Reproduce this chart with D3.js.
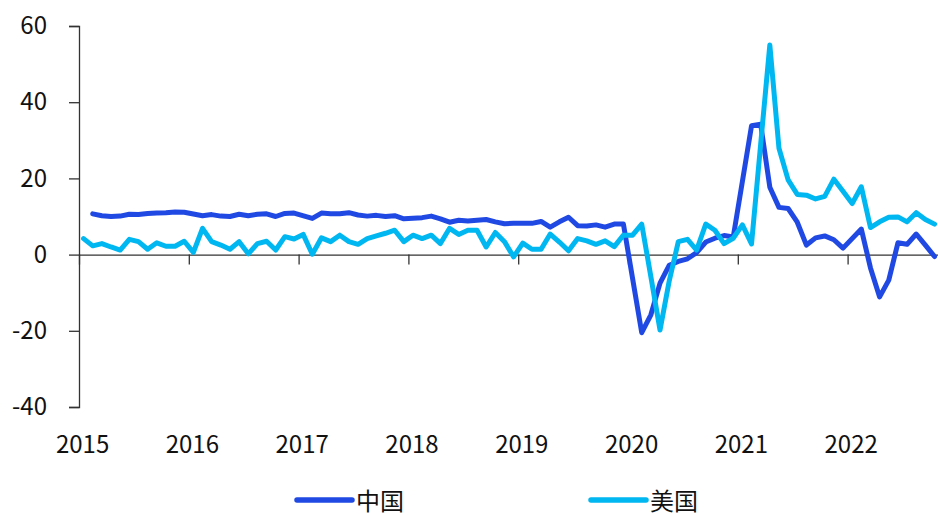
<!DOCTYPE html>
<html lang="zh">
<head>
    <meta charset="utf-8">
    <title>中美零售同比</title>
    <style>
        body { margin: 0; background: #fff; }
        svg text { font-family: "Noto Sans CJK SC", "Noto Sans", sans-serif; fill: #111; }
    </style>
</head>
<body>
    <div id="container"></div>

    <script src="https://cdn.jsdelivr.net/npm/d3@7"></script>
    <script>
        // Year labels, one per 12 months (Jan 2015 .. Oct 2022)
        const years = ["2015", "2016", "2017", "2018", "2019", "2020", "2021", "2022"];
        const yTicks = [-40, -20, 0, 20, 40, 60];

        // China: Jan is merged into Feb, so Jan values are null
        const china = [
            null, 10.7, 10.2, 10.0, 10.1, 10.6, 10.5, 10.8, 10.9, 11.0, 11.2, 11.1,
            null, 10.2, 10.5, 10.1, 10.0, 10.6, 10.2, 10.6, 10.7, 10.0, 10.8, 10.9,
            null, 9.5, 10.9, 10.7, 10.7, 11.0, 10.4, 10.1, 10.3, 10.0, 10.2, 9.4,
            null, 9.7, 10.1, 9.4, 8.5, 9.0, 8.8, 9.0, 9.2, 8.6, 8.1, 8.2,
            null, 8.2, 8.7, 7.2, 8.6, 9.8, 7.6, 7.5, 7.8, 7.2, 8.0, 8.0,
            null, -20.5, -15.8, -7.5, -2.8, -1.8, -1.1, 0.5, 3.3, 4.3, 5.0, 4.6,
            null, 33.8, 34.2, 17.7, 12.4, 12.1, 8.5, 2.5, 4.4, 4.9, 3.9, 1.7,
            null, 6.7, -3.5, -11.1, -6.7, 3.1, 2.7, 5.4, 2.5, -0.5
        ];

        const usa = [
            4.2, 2.3, 2.9, 2.0, 1.2, 4.0, 3.4, 1.4, 3.1, 2.2, 2.2, 3.5,
            0.6, 6.9, 3.4, 2.5, 1.4, 3.4, 0.2, 2.9, 3.5, 1.2, 4.7, 4.1,
            5.3, 0.1, 4.4, 3.4, 5.1, 3.4, 2.7, 4.2, 4.9, 5.6, 6.4, 3.4,
            5.1, 4.2, 5.1, 2.9, 6.9, 5.3, 6.4, 6.4, 2.0, 5.8, 3.4, -0.6,
            3.0, 1.4, 1.4, 5.4, 3.3, 1.0, 4.2, 3.6, 2.7, 3.6, 2.1, 5.1,
            5.1, 8.0, -5.8, -19.8, -7.0, 3.4, 4.0, 1.2, 8.0, 6.4, 2.9, 4.3,
            7.8, 2.8, 29.0, 55.0, 27.9, 19.6, 15.8, 15.6, 14.6, 15.3, 19.8, 16.6,
            13.4, 17.8, 7.1, 8.6, 9.8, 9.9, 8.6, 11.0, 9.2, 8.0
        ];

        const seriesNames = ["中国", "美国"];
        const colors = ["#2049e3", "#00b7f1"];

        const width = 938;
        const height = 515;
        const left = 79;
        const monthW = 9.15;

        const svg = d3.select("#container").append("svg")
            .attr("width", width)
            .attr("height", height);

        // month index -> x (points sit in the middle of each month slot)
        const x = d3.scaleLinear()
            .domain([0, usa.length])
            .range([left, left + usa.length * monthW]);

        const y = d3.scaleLinear()
            .domain([-40, 60])
            .range([407, 26]);

        // y axis (plain hyphen for negatives, like the source)
        const yAxis = svg.append("g")
            .attr("transform", `translate(${left},0)`)
            .call(d3.axisLeft(y).tickValues(yTicks).tickSize(10).tickPadding(22).tickFormat(d => String(d)));
        yAxis.select(".domain").attr("stroke", "#333").attr("stroke-width", 1.3);
        yAxis.selectAll(".tick line").attr("stroke", "#333").attr("stroke-width", 1.3);
        yAxis.selectAll("text").style("font-size", "24px").attr("fill", "#111");

        // x axis along zero, ticks at year boundaries
        const yearStarts = years.map((d, i) => i * 12);
        const xAxis = svg.append("g")
            .attr("transform", `translate(0,${y(0)})`)
            .call(d3.axisBottom(x).tickValues(yearStarts).tickSize(10).tickSizeOuter(0).tickFormat(""));
        xAxis.select(".domain").attr("stroke", "#333").attr("stroke-width", 1.3);
        xAxis.selectAll(".tick line").attr("stroke", "#333").attr("stroke-width", 1.3);

        // year labels at the bottom, under January of each year
        svg.append("g").selectAll("text")
            .data(years)
            .enter().append("text")
            .attr("x", (d, i) => x(i * 12 + 0.5) - 1)
            .attr("y", 442)
            .attr("text-anchor", "middle")
            .attr("dominant-baseline", "central")
            .style("font-size", "24px")
            .text(d => d);

        // lines (nulls dropped so the line joins across)
        const line = d3.line()
            .x(d => x(d.i + 0.5))
            .y(d => y(d.v));

        [china, usa].forEach((vals, k) => {
            const pts = vals.map((v, i) => ({ i: i, v: v })).filter(d => d.v !== null);
            svg.append("path")
                .datum(pts)
                .attr("fill", "none")
                .attr("stroke", colors[k])
                .attr("stroke-width", 5)
                .attr("stroke-linejoin", "round")
                .attr("stroke-linecap", "round")
                .attr("d", line);
        });

        // legend
        const legendX = [297, 591];
        const legend = svg.append("g");
        seriesNames.forEach((name, k) => {
            legend.append("line")
                .attr("x1", legendX[k]).attr("x2", legendX[k] + 55)
                .attr("y1", 500).attr("y2", 500)
                .attr("stroke", colors[k])
                .attr("stroke-width", 5.5)
                .attr("stroke-linecap", "round");
            legend.append("text")
                .attr("x", legendX[k] + 59)
                .attr("y", 499)
                .attr("dominant-baseline", "central")
                .style("font-size", "24px")
                .text(name);
        });
    </script>
</body>
</html>
